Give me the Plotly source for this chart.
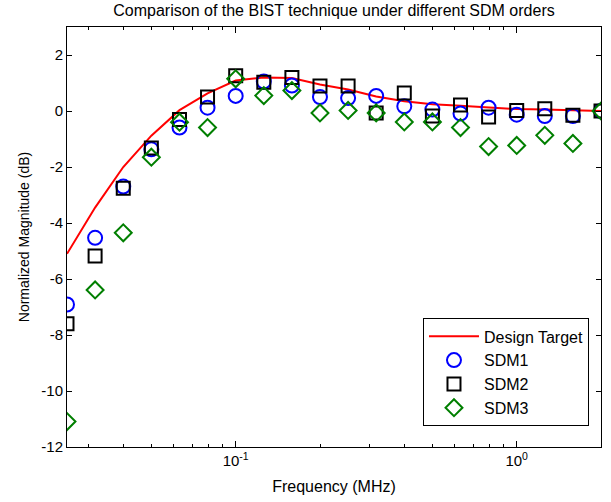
import numpy as np
import plotly.graph_objects as go

# Frequencies (MHz)
freq_mhz = [0.0251, 0.0316, 0.0398, 0.0501, 0.0631, 0.0794, 0.1, 0.1259, 0.1585, 0.1995,
            0.2512, 0.3162, 0.3981, 0.5012, 0.631, 0.7943, 1.0, 1.2589, 1.5849, 1.9953]

design_target = [-5.1, -3.45, -2.0, -0.88, 0.03, 0.63, 1.09, 1.20, 1.18, 0.95,
                 0.77, 0.52, 0.35, 0.24, 0.19, 0.12, 0.07, 0.05, 0.02, 0.0]
sdm1 = [-6.91, -4.53, -2.70, -1.37, -0.59, 0.12, 0.54, 1.05, 0.91, 0.50,
        0.46, 0.54, 0.17, 0.05, -0.09, 0.12, -0.13, -0.18, -0.18, 0.0]
sdm2 = [-7.60, -5.18, -2.76, -1.32, -0.30, 0.50, 1.26, 1.03, 1.20, 0.89,
        0.89, -0.07, 0.64, -0.18, 0.21, -0.21, 0.02, 0.08, -0.15, 0.0]
sdm3 = [-11.09, -6.39, -4.35, -1.65, -0.40, -0.59, 1.15, 0.55, 0.73, -0.07,
        0.02, -0.07, -0.39, -0.39, -0.59, -1.27, -1.23, -0.87, -1.16, 0.0]

x_major = [0.1, 1.0]
x_major_text = ["10<sup>-1</sup>", "10<sup>0</sup>"]
y_ticks = [-12, -10, -8, -6, -4, -2, 0, 2]
y_tick_text = [str(v) for v in y_ticks]

font_family = "Liberation Sans, Arial, Helvetica, sans-serif"

fig = go.Figure()
fig.add_trace(go.Scatter(x=freq_mhz, y=design_target, mode="lines", name="Design Target",
                         line=dict(color="#ff0000", width=2)))
fig.add_trace(go.Scatter(x=freq_mhz, y=sdm1, mode="markers", name="SDM1",
                         marker=dict(symbol="circle-open", size=14, color="#0000ff",
                                     line=dict(width=2, color="#0000ff"))))
fig.add_trace(go.Scatter(x=freq_mhz, y=sdm2, mode="markers", name="SDM2",
                         marker=dict(symbol="square-open", size=13, color="#000000",
                                     line=dict(width=2, color="#000000"))))
fig.add_trace(go.Scatter(x=freq_mhz, y=sdm3, mode="markers", name="SDM3",
                         marker=dict(symbol="diamond-open", size=13, color="#007f00",
                                     line=dict(width=2, color="#007f00"))))

minor_vals = [m * 10.0 ** e for e in (-2, -1, 0) for m in range(2, 10)]

fig.update_layout(
    width=611, height=502,
    margin=dict(l=67, r=10, t=27, b=55),
    paper_bgcolor="white", plot_bgcolor="white",
    font=dict(family=font_family, size=15, color="#000000"),
    title=dict(text="Comparison of the BIST technique under different SDM orders",
               x=(67 + 601) / 2 / 611, xanchor="center", y=0.99, yanchor="top",
               font=dict(size=16)),
    showlegend=True,
    legend=dict(x=0.9775, y=0.049, xanchor="right", yanchor="bottom",
                bgcolor="white", bordercolor="#000000", borderwidth=1,
                font=dict(size=16), tracegroupgap=0, itemwidth=50),
)
fig.update_xaxes(
    type="log", range=[np.log10(freq_mhz[0]), np.log10(freq_mhz[-1])],
    tickvals=x_major, ticktext=x_major_text,
    ticks="inside", ticklen=6, tickwidth=1, tickcolor="#000000",
    minor=dict(tickvals=minor_vals, ticks="inside", ticklen=3, tickcolor="#000000"),
    showline=True, linecolor="#000000", linewidth=1, mirror="ticks",
    showgrid=False, zeroline=False,
    title=dict(text="Frequency (MHz)", standoff=12, font=dict(size=16)),
    tickfont=dict(size=15),
)
fig.update_yaxes(
    range=[-12, 3], tickvals=y_ticks, ticktext=y_tick_text,
    ticks="inside", ticklen=5, tickwidth=1, tickcolor="#000000",
    showline=True, linecolor="#000000", linewidth=1, mirror="ticks",
    showgrid=False, zeroline=False,
    title=dict(text="Normalized Magnitude (dB)", standoff=8, font=dict(size=14)),
    tickfont=dict(size=15),
)

fig.write_html("out.html")
